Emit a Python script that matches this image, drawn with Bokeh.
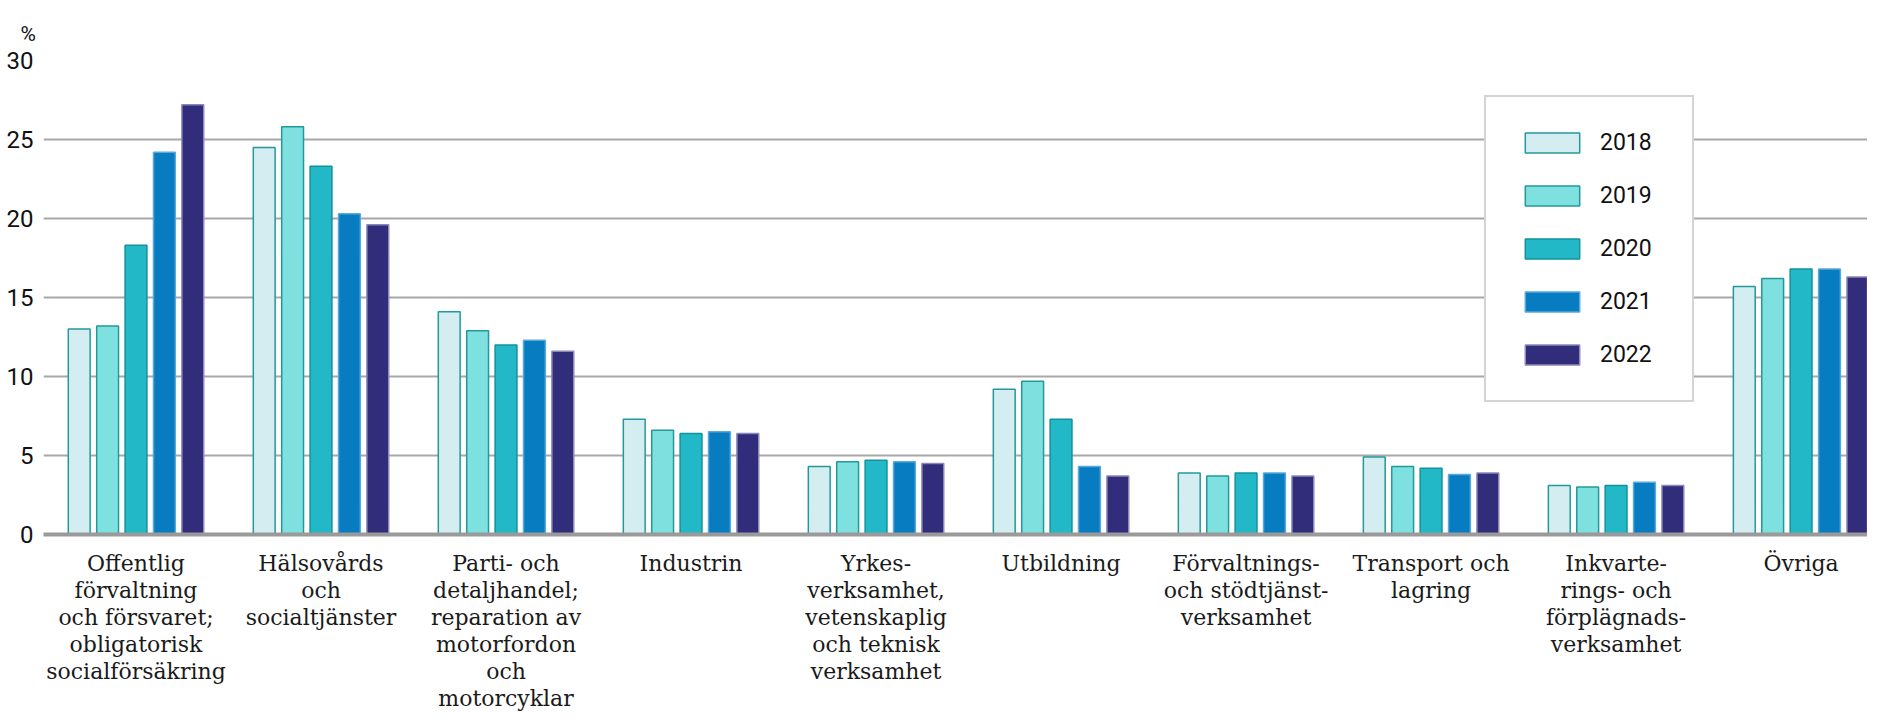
import numpy as np
from bokeh.plotting import figure
from bokeh.models import ColumnDataSource, Range1d, FixedTicker, Legend, LegendItem, Title
from bokeh.transform import dodge
from bokeh.embed import file_html
from bokeh.resources import INLINE

categories = [
    "Offentlig\nförvaltning\noch försvaret;\nobligatorisk\nsocialförsäkring",
    "Hälsovårds\noch\nsocialtjänster",
    "Parti- och\ndetaljhandel;\nreparation av\nmotorfordon\noch\nmotorcyklar",
    "Industrin",
    "Yrkes-\nverksamhet,\nvetenskaplig\noch teknisk\nverksamhet",
    "Utbildning",
    "Förvaltnings-\noch stödtjänst-\nverksamhet",
    "Transport och\nlagring",
    "Inkvarte-\nrings- och\nförplägnads-\nverksamhet",
    "Övriga",
]
years = ["2018", "2019", "2020", "2021", "2022"]
v2018 = [13.0, 24.5, 14.1, 7.3, 4.3, 9.2, 3.9, 4.9, 3.1, 15.7]
v2019 = [13.2, 25.8, 12.9, 6.6, 4.6, 9.7, 3.7, 4.3, 3.0, 16.2]
v2020 = [18.3, 23.3, 12.0, 6.4, 4.7, 7.3, 3.9, 4.2, 3.1, 16.8]
v2021 = [24.2, 20.3, 12.3, 6.5, 4.6, 4.3, 3.9, 3.8, 3.3, 16.8]
v2022 = [27.2, 19.6, 11.6, 6.4, 4.5, 3.7, 3.7, 3.9, 3.1, 16.3]
y_ticks = [0, 5, 10, 15, 20, 25, 30]

fills = ["#d4edf0", "#7fe0e0", "#22b8c8", "#087cc0", "#322d7a"]
lines = ["#23999b", "#23999b", "#11939a", "#5aa8dc", "#8a88b8"]

src = ColumnDataSource(dict(
    x=list(range(len(categories))),
    y2018=v2018, y2019=v2019, y2020=v2020, y2021=v2021, y2022=v2022,
))

p = figure(width=1867, height=715,
           x_range=Range1d(-0.5, 9.359), y_range=Range1d(0, 30.0),
           output_backend="svg", toolbar_location=None,
           min_border_left=43, min_border_right=0,
           min_border_top=60, min_border_bottom=181)
p.outline_line_color = None
p.background_fill_color = "white"
p.border_fill_color = "white"

pitch = 0.1535
renderers = []
for i, yr in enumerate(years):
    r = p.vbar(x=dodge("x", (i - 2) * pitch, range=p.x_range), top="y" + yr,
               width=0.118, source=src,
               fill_color=fills[i], line_color=lines[i], line_width=1.5)
    renderers.append(r)

legend = Legend(items=[LegendItem(label=yr, renderers=[r]) for yr, r in zip(years, renderers)],
                location=(1441, 132), orientation="vertical",
                glyph_width=68, glyph_height=25, label_standoff=14,
                label_width=60, label_height=25, spacing=26, padding=32,
                margin=0,
                border_line_color="#aaaaaa", border_line_width=2,
                background_fill_color="white", background_fill_alpha=1.0,
                label_text_font="Roboto", label_text_font_size="23px",
                label_text_color="#111111")
p.add_layout(legend)

# y axis
p.yaxis.ticker = FixedTicker(ticks=y_ticks)
p.yaxis.axis_line_color = None
p.yaxis.major_tick_line_color = None
p.yaxis.major_tick_out = 0
p.yaxis.major_tick_in = 0
p.yaxis.minor_tick_line_color = None
p.yaxis.major_label_text_font = "Roboto"
p.yaxis.major_label_text_font_size = "24px"
p.yaxis.major_label_text_color = "#111111"
p.yaxis.major_label_standoff = 10

# x axis
p.xaxis.ticker = FixedTicker(ticks=list(range(len(categories))))
p.xaxis.major_label_overrides = {i: c for i, c in enumerate(categories)}
p.xaxis.axis_line_color = "#9a9a9a"
p.xaxis.axis_line_width = 4
p.xaxis.major_tick_line_color = None
p.xaxis.minor_tick_line_color = None
p.xaxis.major_label_text_font = "DejaVu Serif"
p.xaxis.major_label_text_font_size = "22px"
p.xaxis.major_label_text_color = "#1a1a1a"
p.xaxis.major_label_text_line_height = 1.08
p.xaxis.major_label_standoff = 10

p.xgrid.grid_line_color = None
p.ygrid.grid_line_color = "#a8a8a8"
p.ygrid.grid_line_width = 2

p.add_layout(Title(text="%", align="left", offset=-23, standoff=30,
                   text_font="Roboto", text_font_size="21px",
                   text_font_style="normal", text_color="#111111"), "above")

open("out.html", "w").write(file_html(p, INLINE))
